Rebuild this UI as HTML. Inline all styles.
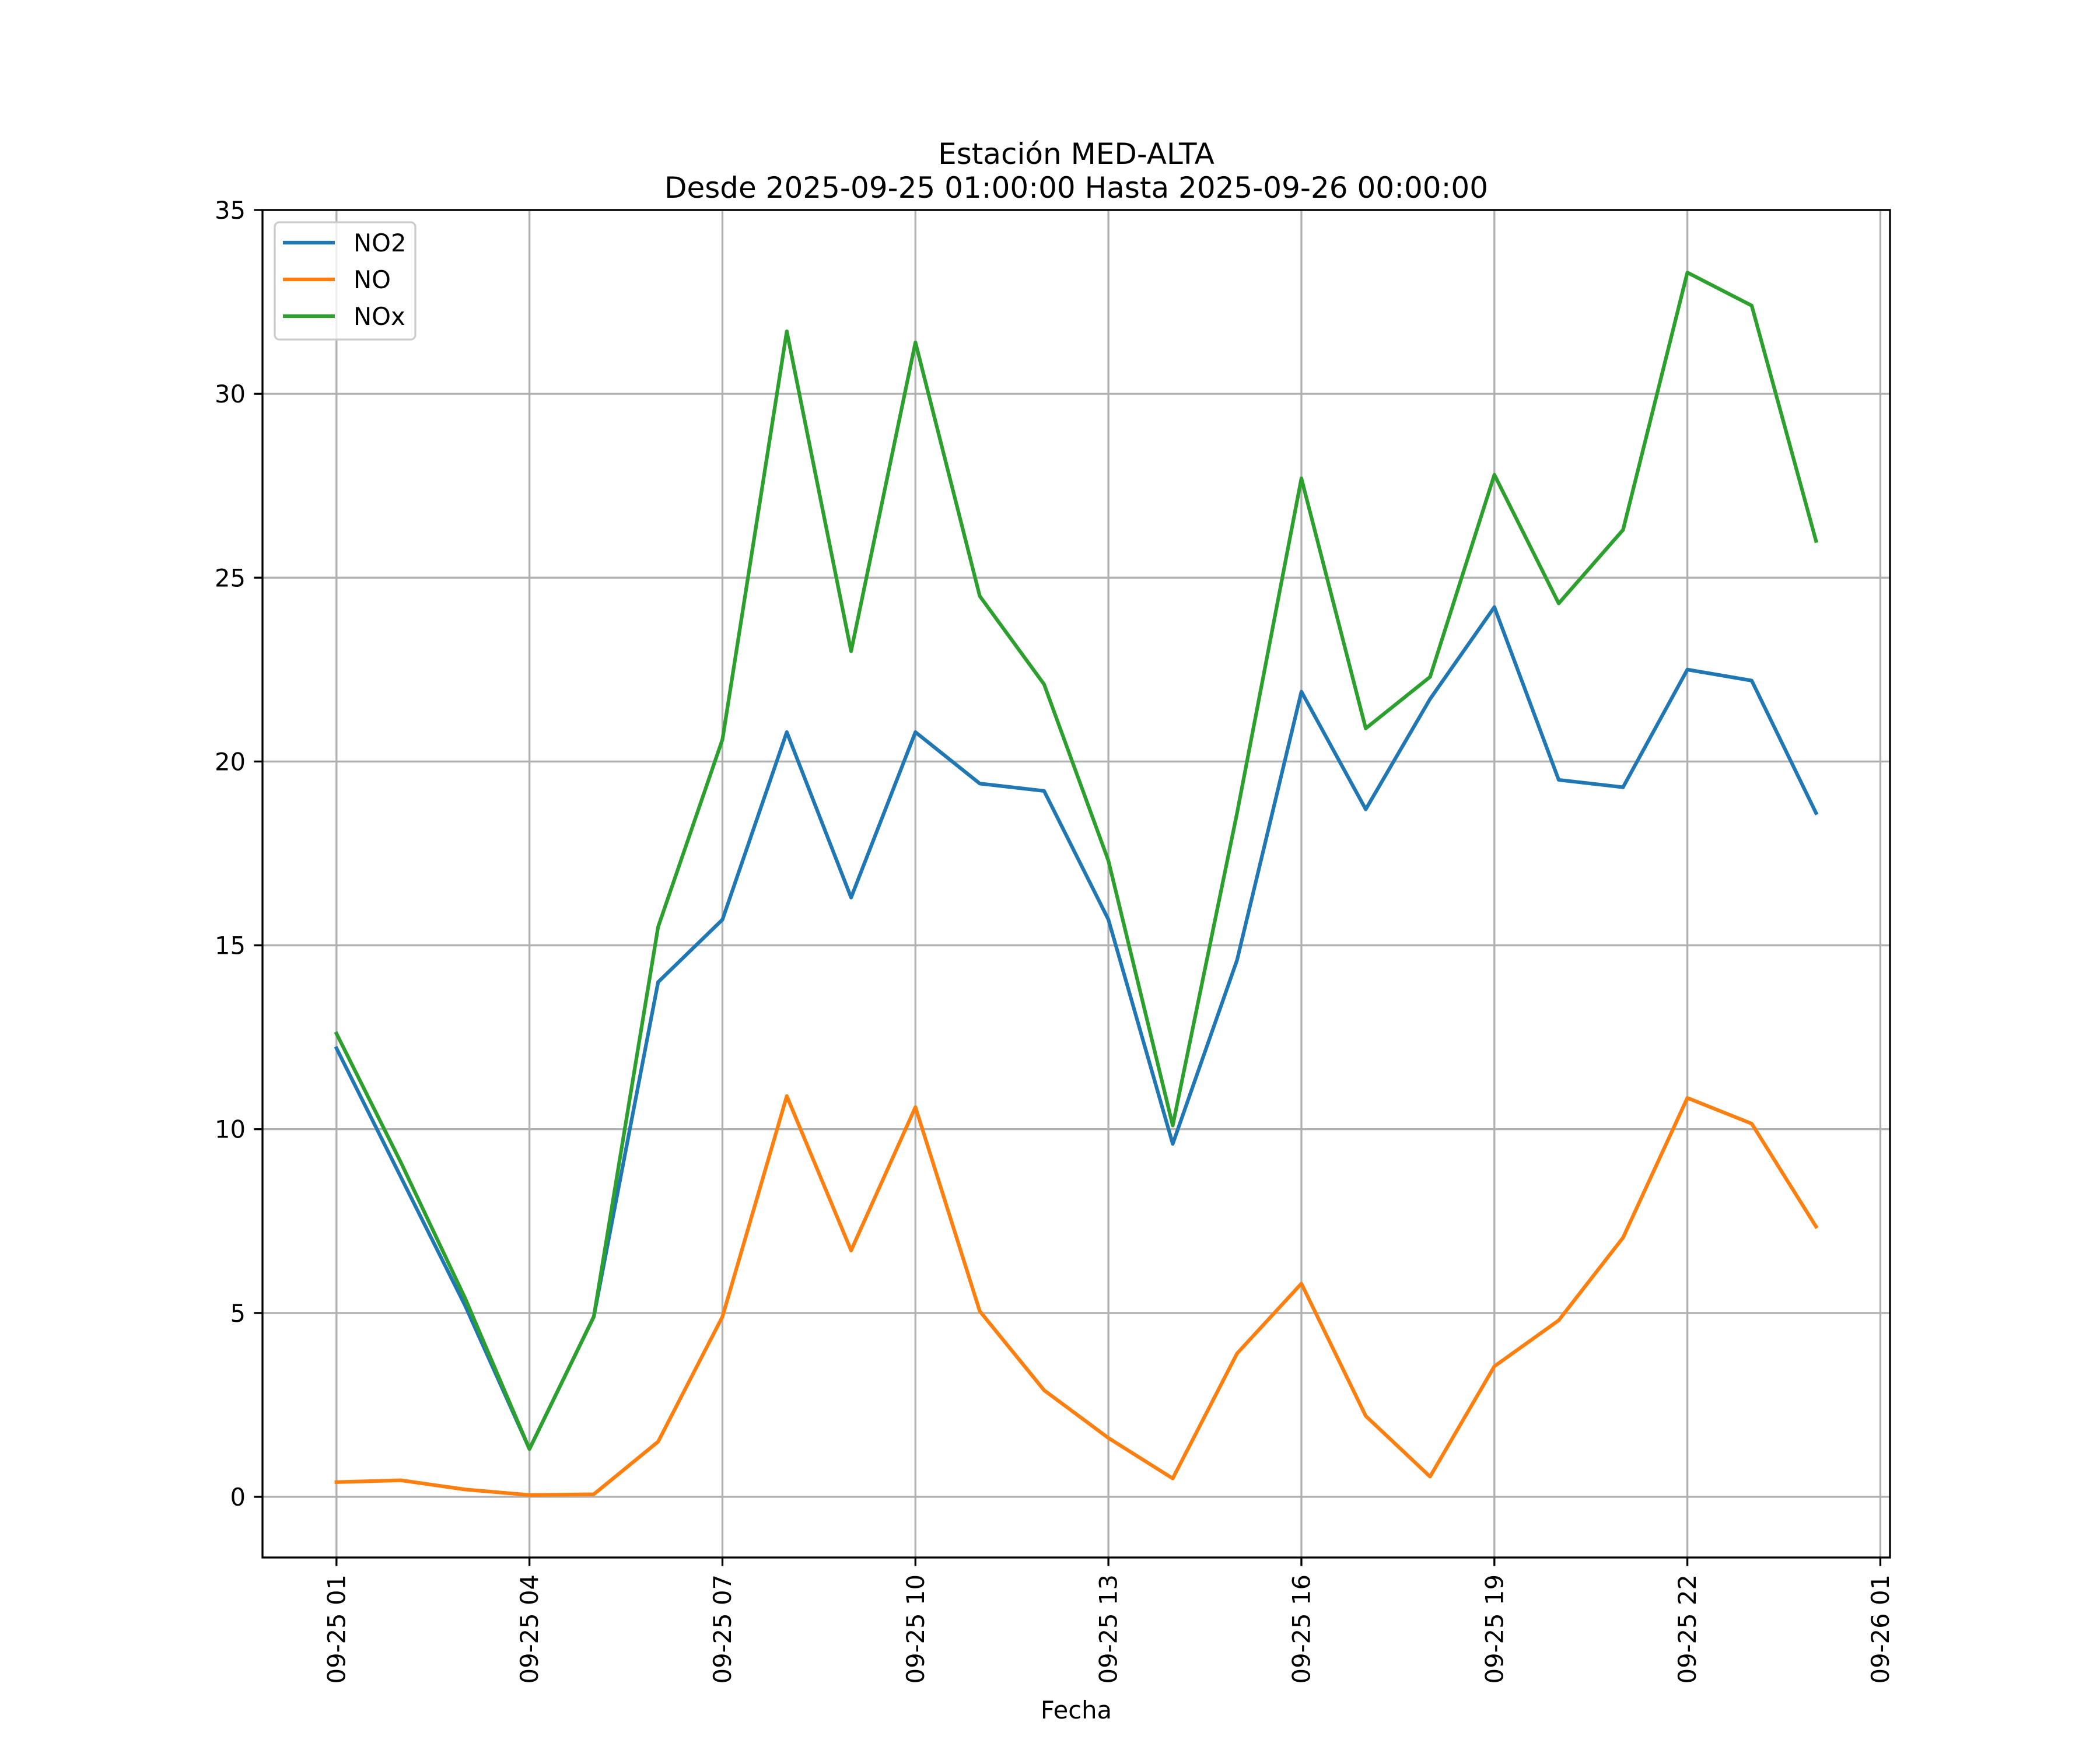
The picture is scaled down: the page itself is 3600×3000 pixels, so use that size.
<!DOCTYPE html>
<html><head><meta charset="utf-8"><style>html,body{margin:0;padding:0;background:#fff}svg{display:block}text{font-family:"DejaVu Sans","Liberation Sans",sans-serif;fill:#000}</style></head>
<body>
<svg id="chart" xmlns="http://www.w3.org/2000/svg" width="3600" height="3000" viewBox="0 0 3600 3000">
<rect width="3600" height="3000" fill="#fff"/>
<g id="grid"></g>
<g id="series"></g>
<rect x="450" y="360" width="2790" height="2310" fill="none" stroke="#000" stroke-width="3.33"/>
<g id="ticks"></g>
<text x="1845" y="281" font-size="50" text-anchor="middle">Estación MED-ALTA</text>
<text x="1845" y="339" font-size="50" text-anchor="middle">Desde 2025-09-25 01:00:00 Hasta 2025-09-26 00:00:00</text>
<text x="1845" y="2946" font-size="41.7" text-anchor="middle">Fecha</text>
<g>
<rect x="471" y="381" width="241" height="201" rx="8" fill="#fff" fill-opacity="0.8" stroke="#cccccc" stroke-width="3.33"/>
<line x1="485" y1="416" x2="574" y2="416" stroke="#1f77b4" stroke-width="6.25"/>
<text x="606" y="431" font-size="41.7">NO2</text>
<line x1="485" y1="479" x2="574" y2="479" stroke="#ff7f0e" stroke-width="6.25"/>
<text x="606" y="494" font-size="41.7">NO</text>
<line x1="485" y1="542" x2="574" y2="542" stroke="#2ca02c" stroke-width="6.25"/>
<text x="606" y="557" font-size="41.7">NOx</text>
</g>
</svg>
<script>
const hours = [1,2,3,4,5,6,7,8,9,10,11,12,13,14,15,16,17,18,19,20,21,22,23,24];
const no2 = [12.2,8.7,5.2,1.3,4.9,14.0,15.7,20.8,16.3,20.8,19.4,19.2,15.7,9.6,14.6,21.9,18.7,21.7,24.2,19.5,19.3,22.5,22.2,18.6];
const no = [0.4,0.45,0.2,0.05,0.07,1.5,4.9,10.9,6.7,10.6,5.05,2.9,1.6,0.5,3.9,5.8,2.2,0.55,3.55,4.8,7.05,10.85,10.15,7.35];
const nox = [12.6,9.1,5.4,1.3,4.9,15.5,20.6,31.7,23.0,31.4,24.5,22.1,17.3,10.1,18.6,27.7,20.9,22.3,27.8,24.3,26.3,33.3,32.4,26.0];
const yTicks = [0,5,10,15,20,25,30,35];
const xTickHours = [1,4,7,10,13,16,19,22,25];
const xTickLabels = ["09-25 01","09-25 04","09-25 07","09-25 10","09-25 13","09-25 16","09-25 19","09-25 22","09-26 01"];

const NS="http://www.w3.org/2000/svg";
const L=450,R=3240,T=360,B=2670;
const xmin=-0.15,xmax=25.15,ymin=-1.65,ymax=35;
const sx=h=>L+(h-xmin)/(xmax-xmin)*(R-L);
const sy=v=>B-(v-ymin)/(ymax-ymin)*(B-T);
function mk(tag,attrs,parent){const e=document.createElementNS(NS,tag);for(const k in attrs)e.setAttribute(k,attrs[k]);parent.appendChild(e);return e;}
const grid=document.getElementById('grid'),ticks=document.getElementById('ticks'),ser=document.getElementById('series');
yTicks.forEach(v=>{
  const y=sy(v);
  const g=mk('line',{x1:L,x2:R,y1:y,y2:y,stroke:'#b0b0b0','stroke-width':3.33},grid);
  
  
  const t=mk('line',{x1:L-14.6,x2:L,y1:y,y2:y,stroke:'#000','stroke-width':3.33},ticks);
  
  
  const tx=mk('text',{x:L-29,y:y+15,'font-size':41.7,'text-anchor':'end'},ticks);
  tx.textContent=v;
  
  
});
xTickHours.forEach((h,i)=>{
  const x=sx(h);
  const g=mk('line',{x1:x,x2:x,y1:T,y2:B,stroke:'#b0b0b0','stroke-width':3.33},grid);
  
  
  const t=mk('line',{x1:x,x2:x,y1:B,y2:B+14.6,stroke:'#000','stroke-width':3.33},ticks);
  
  
  const tx=mk('text',{x:0,y:0,'font-size':41.7,'text-anchor':'end','dominant-baseline':'central',transform:`translate(${x},${B+29}) rotate(-90)`},ticks);
  tx.textContent=xTickLabels[i];
  
  
});
[[no2,'#1f77b4','no2-line'],[no,'#ff7f0e','no-line'],[nox,'#2ca02c','nox-line']].forEach(([d,c,n])=>{
  const p=mk('polyline',{points:d.map((v,i)=>sx(hours[i])+','+sy(v)).join(' '),fill:'none',stroke:c,'stroke-width':6.25,'stroke-linejoin':'round','stroke-linecap':'square'},ser);
  
  
});
</script>
</body></html>
